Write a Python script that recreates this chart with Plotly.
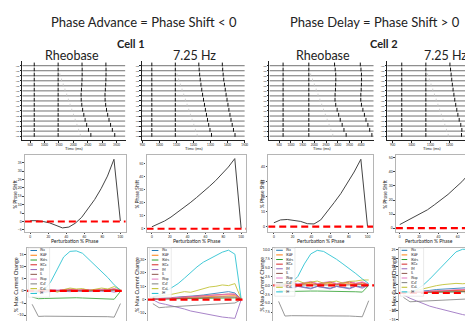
import plotly.graph_objects as go

W, H = 473, 321

# ---------------- data ----------------
phases = [0, 7.1, 14.3, 21.4, 28.6, 35.7, 42.9, 50.0, 57.1, 64.3, 71.4, 78.6, 85.7, 92.9, 100]

shift_c1_rheo = [0.5, 0.5, 0.0, -0.8, -2.3, -3.8, -3.3, -1.0, 2.5, 7.5, 13.0, 19.5, 27.0, 37.0, 0.3]
shift_c1_725 = [1.5, 3.5, 6.0, 9.0, 12.5, 16.0, 20.0, 24.0, 28.0, 32.5, 37.0, 42.0, 47.5, 54.0, 0.5]
shift_c2_rheo = [2.6, 4.5, 4.8, 4.3, 3.5, 2.0, 1.8, 4.5, 10.0, 16.0, 22.0, 29.5, 36.5, 45.0, 0.3]
shift_c2_725 = [2.5, 5.0, 7.5, 10.0, 13.0, 16.5, 20.0, 24.0, 28.5, 33.0, 38.5, 45.0, 49.5, 48.0, 0.0]

current_names = ["INa", "IKAF", "IKdrs", "IKCa", "IM", "IL", "INap", "ICaT", "ICaL", "IH"]
current_colors = ["#1f77b4", "#ff7f0e", "#2ca02c", "#d62728", "#9467bd",
                  "#8c564b", "#e377c2", "#7f7f7f", "#bcbd22", "#17becf"]

cur_c1_rheo = [
    [0, -0.3, -0.5, 0.3, 0.2, 0.1, 0, 0.2, 0.1, 0, 0.2, 0.3, 0.1, 0.5, 0],
    [0, 0.2, 0.3, 0.1, 0, 0.2, 0.3, 0.1, 0.2, 0.4, 0.3, 0.2, 0.4, 0.6, 0],
    [-2.5, -3.2, -3.1, -3.0, -2.9, -3.0, -2.9, -2.8, -2.9, -3.0, -3.0, -3.1, -3.2, -3.4, -0.2],
    [0, 0.3, 0.5, 0.2, 0.1, 0.4, 0.6, 0.3, 0.5, 0.3, 0.2, 0.5, 0.4, 0.8, 0.2],
    [0, -0.5, -0.6, -0.2, 0.1, -0.1, -0.3, 0, -0.2, -0.1, 0, -0.2, 0, -0.5, 0],
    [0, 0.1, 0.2, 0.1, 0, 0.1, 0.2, 0.1, 0, 0.1, 0.2, 0.1, 0.2, 0.3, 0],
    [0, 0.4, 0.6, 0.5, 0.3, 0.6, 0.8, 0.5, 0.7, 0.6, 0.4, 0.7, 0.6, 1.0, 0.3],
    [-5.5, -10.5, -10.4, -10.4, -10.3, -10.3, -10.3, -10.4, -10.4, -10.5, -10.5, -10.6, -10.6, -10.8, -5.2],
    [0, 0.5, 0.8, 0.3, -0.5, 0.5, 1.2, 0.8, 1.0, 0.2, 0.6, 1.2, 0.8, 1.8, 0.5],
    [0, -0.8, 0.5, 4.0, 9.0, 14.0, 16.3, 16.5, 15.5, 13.0, 10.5, 8.0, 5.5, 2.5, 0.3],
]
cur_c1_725 = [
    [0.5, 0.8, 1.2, 1.5, 2, 2.5, 2.8, 3, 3.5, 4, 4.5, 5, 6, 5, 0.5],
    [0.5, 0.6, 0.8, 1, 1.3, 1.6, 1.8, 2, 2.3, 2.5, 2.8, 3, 3.2, 3, 0.3],
    [0.8, 0.5, 0.5, 0.6, 0.7, 0.8, 0.9, 1, 1.1, 1.2, 1.3, 1.4, 1.5, 1.3, 0.2],
    [0.3, 0.6, 1, 1.3, 1.6, 2, 2.3, 2.7, 3, 3.3, 3.6, 4, 4.2, 4, 0.3],
    [0, -2.5, -3.5, -4.5, -5.5, -7, -8.5, -9.5, -10.5, -11.5, -12.5, -13, -13.5, -14, 0],
    [0.2, 0.3, 0.5, 0.6, 0.8, 1, 1.1, 1.3, 1.5, 1.6, 1.8, 2, 2.2, 2, 0.2],
    [0.5, 0.8, 1.2, 1.5, 1.8, 2.2, 2.5, 2.8, 3.2, 3.5, 3.8, 4.2, 4.5, 4.3, 0.3],
    [-3, -6, -5.6, -5.3, -5, -4.7, -4.4, -4.1, -3.8, -3.5, -3.2, -3, -2.8, -2.5, 0],
    [2, 2.5, 3.5, 4, 5, 6, 5.5, 7, 8, 9.5, 10, 11, 10.5, 12, 0.5],
    [2, 3.5, 6, 9, 12, 16, 20.5, 24.5, 28, 30.5, 33, 35.5, 37, 34, 0.5],
]
cur_c2_rheo = [
    [0, -0.3, -0.6, -0.2, -0.5, -0.8, -0.3, -0.6, -0.8, -0.3, -0.6, -0.8, -0.2, -0.5, 0.2],
    [0, 0.2, 0.4, 0.2, 0.3, 0.5, 0.2, 0.4, 0.5, 0.2, 0.4, 0.5, 0.3, 0.5, 0.2],
    [-1.3, -1.7, -1.7, -1.6, -1.6, -1.6, -1.6, -1.6, -1.6, -1.7, -1.7, -1.7, -1.8, -1.9, 0],
    [0, 0.5, 0.8, 0.3, 0.6, 0.9, 0.4, 0.7, 0.9, 0.4, 0.7, 0.9, 0.5, 0.8, 0.2],
    [0, -0.4, -0.9, -0.3, -0.7, -1, -0.3, -0.7, -1, -0.3, -0.7, -1, -0.3, -0.8, 0],
    [0, 0.1, 0.2, 0.1, 0.1, 0.2, 0.1, 0.1, 0.2, 0.1, 0.1, 0.2, 0.1, 0.2, 0],
    [0, 0.6, 1.0, 0.4, 0.8, 1.1, 0.5, 0.8, 1.1, 0.5, 0.8, 1.1, 0.6, 1.0, 0.3],
    [-4.5, -8.6, -8.5, -8.5, -8.4, -8.4, -8.4, -8.5, -8.5, -8.5, -8.6, -8.6, -8.7, -8.8, -4.3],
    [0.3, 0.5, 0.8, 1.3, 0.6, 0.9, 1.2, 0.6, 1.0, 1.2, 0.6, 1.1, 1.2, 1.5, 1.5],
    [0, 0.3, 0.7, 2.5, 6.0, 8.8, 9.8, 9.5, 8.5, 7.3, 6.0, 4.7, 3.3, 1.8, 0.5],
]
cur_c2_725 = [
    [0.3, 0.5, 0.8, 1.2, 1.5, 2, 2.3, 2.6, 2.8, 3, 3.1, 3.2, 3.3, 3.2, 0],
    [0.2, 0.3, 0.5, 0.7, 0.9, 1.1, 1.3, 1.5, 1.6, 1.8, 1.9, 2, 2.1, 2, 0],
    [0.5, 0.4, 0.4, 0.5, 0.5, 0.6, 0.6, 0.7, 0.7, 0.8, 0.8, 0.9, 0.9, 0.8, 0],
    [0.2, 0.4, 0.6, 0.8, 1, 1.2, 1.4, 1.6, 1.8, 2, 2.1, 2.2, 2.3, 2.2, 0],
    [-1, -3, -4.5, -6, -7.5, -8.5, -9.5, -10.5, -11.5, -12.3, -13, -13.7, -14.2, -14, 0],
    [0.1, 0.2, 0.3, 0.4, 0.5, 0.6, 0.7, 0.8, 0.9, 1, 1, 1.1, 1.1, 1, 0],
    [0.3, 0.5, 0.8, 1, 1.3, 1.5, 1.8, 2, 2.2, 2.4, 2.5, 2.6, 2.7, 2.6, 0],
    [-2.5, -5, -4.8, -4.6, -4.4, -4.2, -4, -3.8, -3.6, -3.5, -3.3, -3.2, -3, -2.8, 0],
    [0, 0.5, 1.5, 2.5, 3.5, 4.2, 4.8, 5.2, 5.5, 5.3, 5.8, 6.2, 6.5, 6.5, 0],
    [0, 0.5, 2, 4.5, 8, 12, 16, 20, 23.5, 25, 25, 25, 24.5, 23, 0],
]

# raster (spike train) parameters, one entry per raster panel
raster_first = [640, 955, 665, 948]
raster_isi = [830, 138, 1100, 127]
raster_span = [[230, 3800], [897, 1500], [90, 4530], [872, 1350]]
raster_xticks = [[500, 1000, 1500, 2000, 2500, 3000, 3500],
                 [900, 1000, 1100, 1200, 1300, 1400, 1500],
                 [500, 1000, 1500, 2000, 2500, 3000, 3500, 4000],
                 [900, 1000, 1100, 1200, 1300]]
raster_ylabel = "-60"
n_rows = 15

shift_sets = [shift_c1_rheo, shift_c1_725, shift_c2_rheo, shift_c2_725]
current_sets = [cur_c1_rheo, cur_c1_725, cur_c2_rheo, cur_c2_725]

# ---------------- layout geometry (pixels) ----------------
raster_px = [(12, 117), (133, 238), (262, 368), (381, 473)]
raster_y = (52, 132)
raster_xrange = [[210, 3820], [895, 1505], [73, 4555], [870, 1350]]

shift_px = [(15, 117), (138, 239), (261, 367), (390, 473)]
shift_y = (147, 224)
shift_xrange = [[-6, 106], [-6, 106], [-6, 106], [-4, 81]]
shift_yrange = [[-6, 39.5], [-2.2, 56.7], [-3.3, 47.8], [-2.5, 52]]
shift_yticks = [list(range(-5, 40, 5)), list(range(0, 60, 10)), list(range(0, 50, 10)), list(range(0, 60, 10))]

cur_px = [(17, 117), (139, 239), (266, 368), (393, 473)]
cur_y = (240, 314)
cur_xrange = [[-6, 106], [-6, 106], [-6, 106], [-5, 81]]
cur_yrange = [[-12.4, 17.9], [-16, 39], [-10, 10.6], [-16, 26]]
cur_yticks = [[-10, -5, 0, 5, 10, 15], [-10, 0, 10, 20, 30],
              [-7.5, -5, -2.5, 0, 2.5, 5, 7.5, 10], [-15, -10, -5, 0, 5, 10, 15, 20, 25]]

def xdom(a, b):
    return [a / W, min(b / W, 1.0)]

def ydom(t, b):
    return [1 - b / H, 1 - t / H]

def PX(x):
    return x / W

def PY(y):
    return 1 - y / H

fig = go.Figure()
layout = {}

def names(i):
    xa = 'xaxis' if i == 1 else f'xaxis{i}'
    ya = 'yaxis' if i == 1 else f'yaxis{i}'
    xs = 'x' if i == 1 else f'x{i}'
    ys = 'y' if i == 1 else f'y{i}'
    return xa, ya, xs, ys

TXT = '#222222'
BOX = '#b5b5b5'

# ---------- row 1 : rasters ----------
for j in range(4):
    i = j + 1
    xa, ya, xs, ys = names(i)
    layout[xa] = dict(domain=xdom(*raster_px[j]), range=raster_xrange[j], anchor=ys,
                      showline=True, linecolor='#222', linewidth=0.8, ticks='outside',
                      ticklen=1.5, tickwidth=0.5, tickcolor='#222', tickvals=raster_xticks[j],
                      tickfont=dict(size=3, color=TXT), showgrid=False, zeroline=False)
    layout[ya] = dict(domain=ydom(*raster_y), range=[-(n_rows - 0.2), 1.0], anchor=xs,
                      showline=True, linecolor='#222', linewidth=0.8, ticks='outside',
                      ticklen=1.2, tickwidth=0.5, tickcolor='#222',
                      tickvals=[-r for r in range(n_rows)], ticktext=[raster_ylabel] * n_rows,
                      tickfont=dict(size=2.6, color=TXT), showgrid=False, zeroline=False)
    s1 = raster_first[j]
    isi = raster_isi[j]
    t0, t1 = raster_span[j]
    bx, by, sx, sy, qx, qy = [], [], [], [], [], []
    for r in range(n_rows):
        base = -r
        bx += [t0, t1, None]
        by += [base, base, None]
        s2 = s1 + isi
        if r == 0:
            s3 = s2 + isi
            pert = None
        else:
            p = phases[r - 1]
            sh = shift_sets[j][r - 1]
            pert = s2 + p / 100.0 * isi
            s3 = s2 + isi * (1 + sh / 100.0)
        spikes = []
        if s1 - isi >= t0:
            spikes.append(s1 - isi)
        spikes += [s1, s2]
        t = s3
        while t <= t1:
            spikes.append(t)
            t += isi
        for t in spikes:
            sx += [t, t, None]
            sy += [base - 0.12, base + 0.62, None]
        if pert is not None:
            qx += [pert, pert, None]
            qy += [base - 0.1, base + 0.45, None]
    fig.add_trace(go.Scatter(x=bx, y=by, mode='lines', line=dict(color='#333', width=0.7),
                             xaxis=xs, yaxis=ys, hoverinfo='skip'))
    fig.add_trace(go.Scatter(x=qx, y=qy, mode='lines', line=dict(color='#c4c4c4', width=0.8),
                             xaxis=xs, yaxis=ys, hoverinfo='skip'))
    fig.add_trace(go.Scatter(x=sx, y=sy, mode='lines', line=dict(color='#111', width=1.0),
                             xaxis=xs, yaxis=ys, hoverinfo='skip'))

# ---------- row 2 : phase shift curves ----------
for j in range(4):
    i = j + 5
    xa, ya, xs, ys = names(i)
    cut = (j == 3)
    layout[xa] = dict(domain=xdom(*shift_px[j]), range=shift_xrange[j], anchor=ys,
                      showline=True, mirror=True, linecolor=BOX, linewidth=1.1, ticks='outside',
                      ticklen=1.2, tickwidth=0.5, tickcolor='#444', tickvals=[0, 20, 40, 60, 80, 100],
                      tickfont=dict(size=3.2, color=TXT), showgrid=False, zeroline=False)
    layout[ya] = dict(domain=ydom(*shift_y), range=shift_yrange[j], anchor=xs,
                      showline=True, mirror=(not cut), linecolor=BOX, linewidth=1.1, ticks='outside',
                      ticklen=1.5, tickwidth=0.5, tickcolor='#444', tickvals=shift_yticks[j],
                      tickfont=dict(size=3.4, color=TXT), showgrid=False, zeroline=False)
    fig.add_trace(go.Scatter(x=phases, y=shift_sets[j], mode='lines',
                             line=dict(color='#454545', width=1.0), xaxis=xs, yaxis=ys, hoverinfo='skip'))
    fig.add_trace(go.Scatter(x=shift_xrange[j], y=[0, 0], mode='lines',
                             line=dict(color='#ff0000', width=2.2, dash='7px,4px'),
                             xaxis=xs, yaxis=ys, hoverinfo='skip'))

# ---------- row 3 : current changes ----------
for j in range(4):
    i = j + 9
    xa, ya, xs, ys = names(i)
    cut = (j == 3)
    layout[xa] = dict(domain=xdom(*cur_px[j]), range=cur_xrange[j], anchor=ys,
                      showline=True, mirror=True, linecolor=BOX, linewidth=1.1, ticks='outside',
                      ticklen=1.2, tickwidth=0.5, tickcolor='#444', tickvals=[0, 20, 40, 60, 80, 100],
                      tickfont=dict(size=3.4, color=TXT), showgrid=False, zeroline=False)
    layout[ya] = dict(domain=ydom(*cur_y), range=cur_yrange[j], anchor=xs,
                      showline=True, mirror=(not cut), linecolor=BOX, linewidth=1.1, ticks='outside',
                      ticklen=1.5, tickwidth=0.5, tickcolor='#444', tickvals=cur_yticks[j],
                      tickformat=('.1f' if j == 2 else None),
                      tickfont=dict(size=3.6, color=TXT), showgrid=False, zeroline=False)
    for k in range(10):
        fig.add_trace(go.Scatter(x=phases, y=current_sets[j][k], mode='lines', opacity=0.8,
                                 line=dict(color=current_colors[k], width=1.0),
                                 xaxis=xs, yaxis=ys, hoverinfo='skip'))
    fig.add_trace(go.Scatter(x=cur_xrange[j], y=[0, 0], mode='lines',
                             line=dict(color='#ff0000', width=2.2, dash='7px,4px'),
                             xaxis=xs, yaxis=ys, hoverinfo='skip'))

# ---------- legends (drawn manually, matplotlib style) ----------
legend_specs = [
    (18.5, 240.5, 40.0, 290.0, 20.7, 27.3, 28.8, 243.0, 4.8),
    (141.0, 240.5, 163.0, 290.0, 143.3, 150.0, 151.6, 243.0, 4.8),
    (267.5, 240.5, 288.0, 289.0, 269.0, 275.7, 277.3, 242.8, 4.65),
    (394.5, 240.5, 418.0, 289.0, 395.8, 401.5, 403.2, 242.8, 4.65),
]
shapes = []
annotations = []
for (bx0, by0, bx1, by1, lx0, lx1, tx, y0, st) in legend_specs:
    shapes.append(dict(type='rect', xref='paper', yref='paper', x0=PX(bx0), x1=PX(bx1),
                       y0=PY(by1), y1=PY(by0), line=dict(color='#dddddd', width=0.6),
                       fillcolor='rgba(255,255,255,0.85)', layer='above'))
    for k, nm in enumerate(current_names):
        yy = y0 + k * st
        shapes.append(dict(type='line', xref='paper', yref='paper', x0=PX(lx0), x1=PX(lx1),
                           y0=PY(yy), y1=PY(yy), line=dict(color=current_colors[k], width=1.0),
                           layer='above'))
        annotations.append(dict(x=PX(tx), y=PY(yy), xref='paper', yref='paper', text=nm,
                                showarrow=False, xanchor='left', yanchor='middle',
                                font=dict(size=3.1, color=TXT)))

def label(text, x, y, size, bold=False, angle=0, color='#222', yanchor='middle'):
    annotations.append(dict(x=PX(x), y=PY(y), xref='paper', yref='paper',
                            text=(f'<b>{text}</b>' if bold else text), showarrow=False,
                            xanchor='center', yanchor=yanchor, textangle=angle,
                            font=dict(size=size, color=color)))

label('Phase Advance = Phase Shift &lt; 0', 135, 13, 13)
label('Phase Delay = Phase Shift &gt; 0', 368.5, 13, 13)
label('Cell 1', 122, 35, 11, bold=True)
label('Cell 2', 378, 35, 11, bold=True)
label('Rheobase', 63, 47, 12.5)
label('7.25 Hz', 186, 47, 12.5)
label('Rheobase', 316.5, 47, 12.5)
label('7.25 Hz', 440.5, 47, 12.5)

for cx in [64.5, 185.5, 315, 427]:
    label('Time (ms)', cx, 140.5, 4.2)
for x, cx in zip([5, 128, 255, 379], [66, 188.5, 314, 423]):
    label('% Phase Shift', x, 186, 4.8, angle=-90)
    label('Perturbation % Phase', cx, 233.5, 5.0)
for x, cx in zip([6, 129, 255, 388], [67, 189, 317, 440]):
    label('% Max Current Change', x, 277, 5.4, angle=-90)
    label('Perturbation % Phase', cx, 318.5, 5.4, yanchor='top')

layout.update(dict(width=W, height=H, margin=dict(l=0, r=0, t=0, b=0),
                   paper_bgcolor='white', plot_bgcolor='white', showlegend=False,
                   font=dict(family='Lato, Open Sans, sans-serif', color=TXT),
                   shapes=shapes, annotations=annotations))
fig.update_layout(**layout)
fig.write_html('out.html')
